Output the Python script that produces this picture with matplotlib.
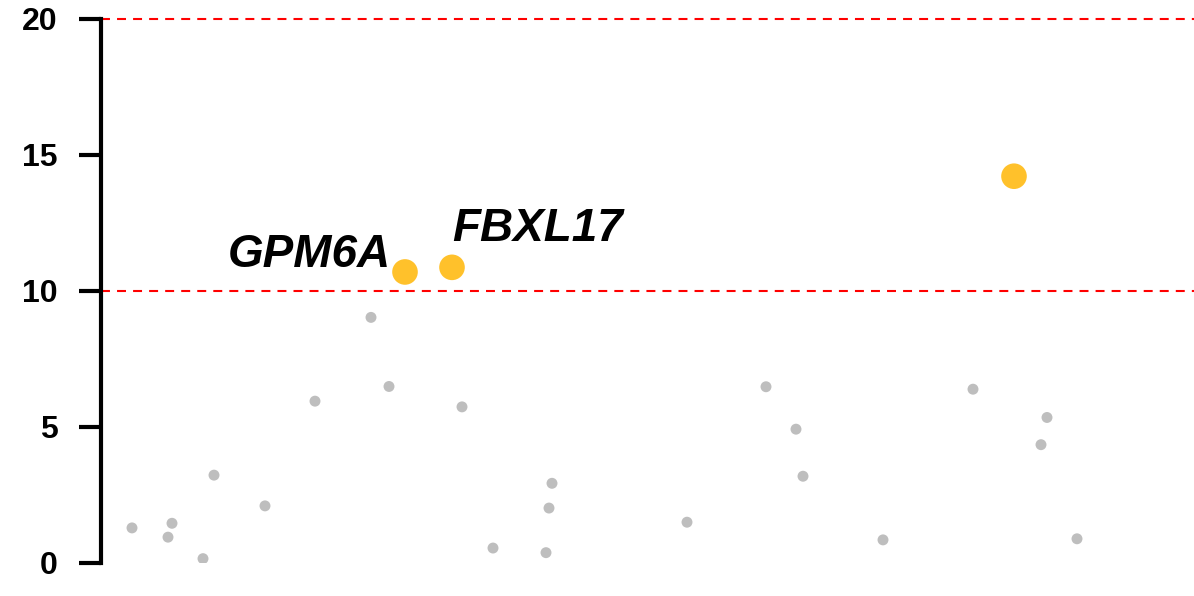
import matplotlib
matplotlib.use('Agg')
from matplotlib import pyplot as plt

plt.rcParams['font.family'] = ['Liberation Sans', 'DejaVu Sans']

# background points (position, score)
pos = [31, 67, 71, 102, 113, 164, 214, 270, 288, 361, 392, 445, 448, 451,
       586, 665, 695, 702, 782, 872, 940, 946, 976]
score = [1.29, 0.95, 1.46, 0.16, 3.23, 2.10, 5.95, 9.03, 6.49, 5.74, 0.55, 0.38,
         2.02, 2.93, 1.50, 6.48, 4.92, 3.19, 0.85, 6.39, 4.35, 5.35, 0.89]

# highlighted hits
hit_pos = [304, 351, 913]
hit_score = [10.70, 10.87, 14.22]
hit_names = ['GPM6A', 'FBXL17', '']

thresholds = [10, 20]

fig = plt.figure(figsize=(11.94, 5.96), dpi=100)
ax = fig.add_axes([101/1194, 33/596, 1 - 101/1194, 544/596])

for t in thresholds:
    ax.axhline(t, color='red', lw=1.5, ls=(0, (4.3, 3.4)), zorder=1, clip_on=False)

ax.scatter(pos, score, s=62, color='#bebebe', edgecolors='none', zorder=2)
ax.scatter(hit_pos, hit_score, s=340, color='#ffc12b', edgecolors='none', zorder=3)

ax.annotate(hit_names[0], (hit_pos[0], hit_score[0]), xytext=(-14, 5),
            textcoords='offset pixels', ha='right', va='baseline',
            fontsize=33, fontweight='bold', fontstyle='italic')
ax.annotate(hit_names[1], (hit_pos[1], hit_score[1]), xytext=(0, 26),
            textcoords='offset pixels', ha='left', va='baseline',
            fontsize=33, fontweight='bold', fontstyle='italic')

ax.set_xlim(0, 1093)
ax.set_ylim(0, 20)
ax.set_yticks([0, 5, 10, 15, 20])
ax.set_xticks([])
for s in ['top', 'right', 'bottom']:
    ax.spines[s].set_visible(False)
ax.spines['left'].set_linewidth(3)
ax.spines['left'].set_bounds(0, 20)
ax.tick_params(axis='y', length=16, width=3, pad=15, labelsize=23)
for lab in ax.get_yticklabels():
    lab.set_fontweight('bold')

fig.savefig('out.png', dpi=100)
